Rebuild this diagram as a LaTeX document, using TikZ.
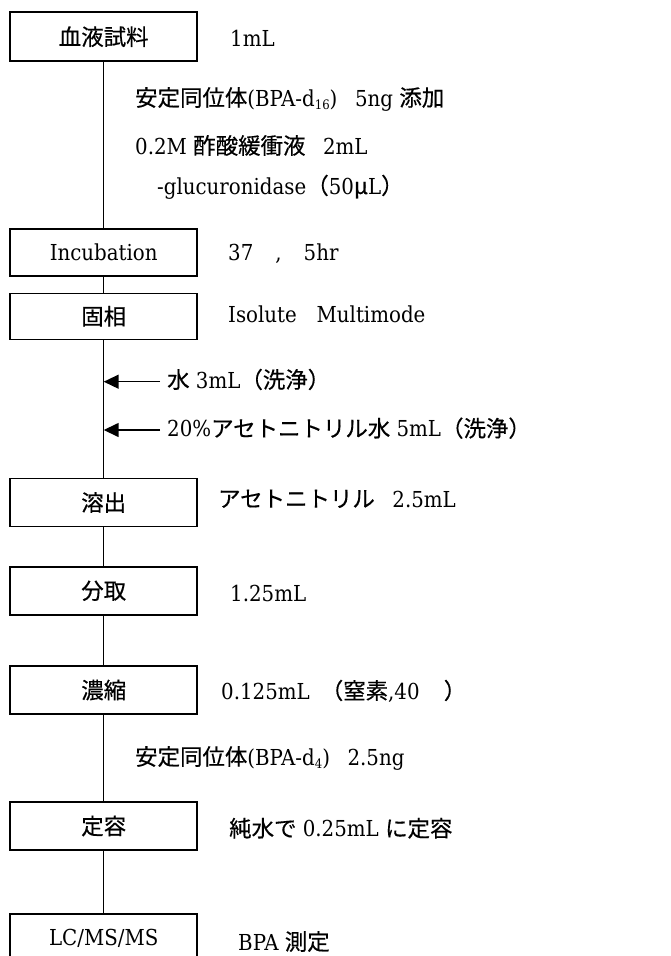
\documentclass[tikz,border=0pt]{standalone}
\usepackage{fontspec}
\setmainfont{DejaVu Serif}[FakeStretch=0.9]
\newfontfamily\jp[Scale=1.02, FakeBold=0.4]{Noto Sans CJK JP}
\usetikzlibrary{arrows.meta}
\newcommand{\subsm}[1]{\raisebox{-0.15em}{\fontsize{13}{14}\selectfont #1}}
\begin{document}
\begin{tikzpicture}[x=1pt,y=-1pt,
  box/.style={draw, line width=1.5pt, minimum width=187pt, inner sep=0pt, font=\fontsize{22}{26}\selectfont},
  lbl/.style={anchor=base west, inner sep=0pt, font=\fontsize{22}{26}\selectfont},
  link/.style={line width=1.5pt},
  feed/.style={line width=1.5pt, -{Triangle[length=15pt,width=14pt]}}]
\clip (0,0) rectangle (671,956);
\fill[white] (0,0) rectangle (671,956);
% boxes
\node[box, minimum height=49pt] (b1) at (103.7,36.7) {\jp 血液試料};
\node[box, minimum height=47pt] (b2) at (103.7,252.3) {Incubation};
\node[box, minimum height=46pt] (b3) at (103.7,316.3) {\jp 固相};
\node[box, minimum height=48pt] (b4) at (103.7,502.5) {\jp 溶出};
\node[box, minimum height=48pt] (b5) at (103.7,590.8) {\jp 分取};
\node[box, minimum height=48pt] (b6) at (103.7,690) {\jp 濃縮};
\node[box, minimum height=48pt] (b7) at (103.7,826) {\jp 定容};
\node[box, minimum height=48pt] (b8) at (103.7,938) {LC/MS/MS};
% connectors
\draw[link] (b1) -- (b2);
\draw[link] (b2) -- (b3);
\draw[link] (b3) -- (b4);
\draw[link] (b4) -- (b5);
\draw[link] (b5) -- (b6);
\draw[link] (b6) -- (b7);
\draw[link] (b7) -- (b8);
% side feeds
\coordinate (w1) at (160,381.7);
\coordinate (w2) at (160,430);
\draw[feed] (w1) -- (w1 -| b3.south);
\draw[feed] (w2) -- (w2 -| b3.south);
% labels
\node[lbl] (t1) at (230,46.7) {1mL};
\node[lbl] (t2) at (135,106) {{\jp 安定同位体}(BPA-d\subsm{16})\hspace{0.8em}5ng {\jp 添加}};
\node[lbl] (t3) at (135,154) {0.2M {\jp 酢酸緩衝液}\hspace{0.8em}2mL};
\node[lbl] (t4) at (157,194) {-glucuronidase{\jp （}50{\jp μ}L{\jp ）}};
\node[lbl] (t5) at (228,260) {37\hspace{1em},\hspace{1em}5hr};
\node[lbl] (t6) at (228,322.7) {Isolute\hspace{0.9em}Multimode};
\node[lbl] (t7) at (167,388) {{\jp 水} 3mL{\jp （洗浄）}};
\node[lbl] (t8) at (167,436.7) {20\%{\jp アセトニトリル水} 5mL{\jp （洗浄）}};
\node[lbl] (t9) at (218,507) {{\jp アセトニトリル}\hspace{0.8em}2.5mL};
\node[lbl] (t10) at (230,601) {1.25mL};
\node[lbl] (t11) at (221,699) {0.125mL\hspace{0.5em}{\jp （窒素},40\hspace{1.1em}{\jp ）}};
\node[lbl] (t12) at (135,765) {{\jp 安定同位体}(BPA-d\subsm{4})\hspace{0.8em}2.5ng};
\node[lbl] (t13) at (229,836.7) {{\jp 純水で} 0.25mL {\jp に定容}};
\node[lbl] (t14) at (238,950) {BPA {\jp 測定}};
\end{tikzpicture}
\end{document}
